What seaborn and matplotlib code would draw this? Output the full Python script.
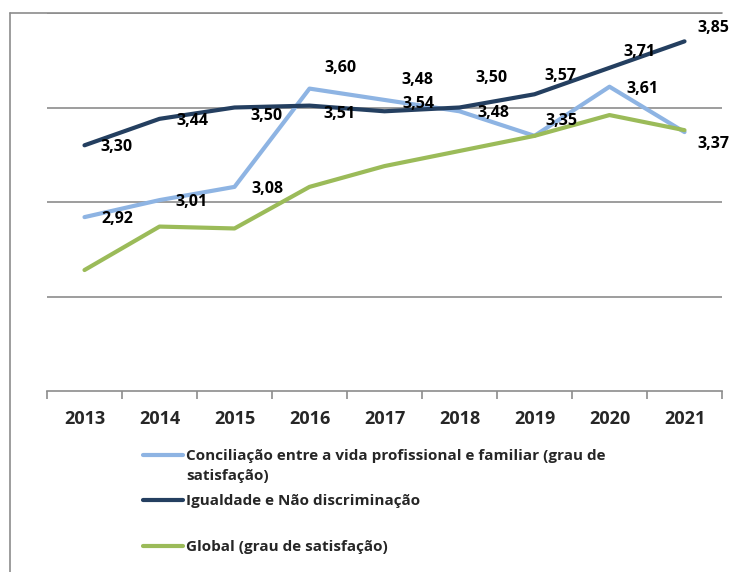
import numpy as np
import pandas as pd
import seaborn as sns
import matplotlib.pyplot as plt
from matplotlib.lines import Line2D

years = ['2013', '2014', '2015', '2016', '2017', '2018', '2019', '2020', '2021']
conciliacao = [2.92, 3.01, 3.08, 3.60, 3.54, 3.48, 3.35, 3.61, 3.37]
igualdade = [3.30, 3.44, 3.50, 3.51, 3.48, 3.50, 3.57, 3.71, 3.85]
global_sat = [2.64, 2.87, 2.86, 3.08, 3.19, 3.27, 3.35, 3.46, 3.38]

names = ['Conciliação entre a vida profissional e familiar (grau de\nsatisfação)',
         'Igualdade e Não discriminação',
         'Global (grau de satisfação)']
colors = ['#8EB4E3', '#243F60', '#9BBB59']

# label offsets in pixels (dx, dy down)
conc_off = [(33, 2), (32, 2), (33, 2), (31, -21), (34, 4), (34, 2), (27, -15), (33, 2), (29, 12)]
igu_off = [(32, 2), (33, 2), (32, 8), (30, 8), (33, -31), (32, -29), (26, -18), (30, -16), (29, -13)]

df = pd.DataFrame({
    'x': list(range(len(years))) * 3,
    'valor': conciliacao + igualdade + global_sat,
    'serie': [names[0]] * 9 + [names[1]] * 9 + [names[2]] * 9,
})

sns.set_style('white')
plt.rcParams['font.family'] = ['Open Sans', 'DejaVu Sans']
plt.rcParams['font.weight'] = 'bold'

fig = plt.figure(figsize=(7.31, 5.72), dpi=100)
ax = fig.add_axes([47 / 731, 1 - 391 / 572, 675 / 731, 378 / 572])

sns.lineplot(data=df, x='x', y='valor', hue='serie', palette=colors,
             hue_order=names, linewidth=3, legend=False, ax=ax, zorder=3)

ax.set_xlim(-0.5, 8.5)
ax.set_ylim(2.0, 4.0)
ax.set_yticks([2.5, 3.0, 3.5, 4.0])
ax.set_yticklabels([])
ax.tick_params(axis='y', length=0)
ax.grid(axis='y', color='#8C8C8C', linewidth=1.2)
ax.set_xticks(range(len(years)))
ax.set_xticklabels(years, fontsize=13, fontweight='bold')
ax.set_xticks(np.arange(-0.5, 9, 1), minor=True)
ax.tick_params(axis='x', which='major', length=0, pad=14)
ax.tick_params(axis='x', which='minor', length=6, color='#8C8C8C', width=1.2, direction='out', bottom=True)
ax.set_xlabel('')
ax.set_ylabel('')
for s in ['top', 'left', 'right']:
    ax.spines[s].set_visible(False)
ax.spines['bottom'].set_color('#8C8C8C')
ax.spines['bottom'].set_linewidth(1.2)

for vals, offs in [(conciliacao, conc_off), (igualdade, igu_off)]:
    for i, v in enumerate(vals):
        ax.annotate(f'{v:.2f}'.replace('.', ','), (i, v), xytext=(offs[i][0], -offs[i][1]),
                    textcoords='offset pixels', ha='center', va='center',
                    fontsize=11.5, fontweight='bold', color='black', annotation_clip=False, zorder=4)

# chart frame (left and top)
fig.add_artist(Line2D([10 / 731, 10 / 731], [0, 1 - 13 / 572], color='#8C8C8C', lw=1.2))
fig.add_artist(Line2D([10 / 731, 722 / 731], [1 - 13 / 572, 1 - 13 / 572], color='#8C8C8C', lw=1.2))

# legend
leg_y = [455, 500, 546]
for name, c, y in zip(names, colors, leg_y):
    fy = 1 - y / 572
    fig.text(186 / 731, fy + 6 / 572, name, ha='left', va='top', fontsize=11,
             fontweight='bold', linespacing=1.55)
    fig.add_artist(Line2D([143 / 731, 183 / 731], [fy, fy], color=c, lw=3))

fig.savefig('out.png', dpi=100)
